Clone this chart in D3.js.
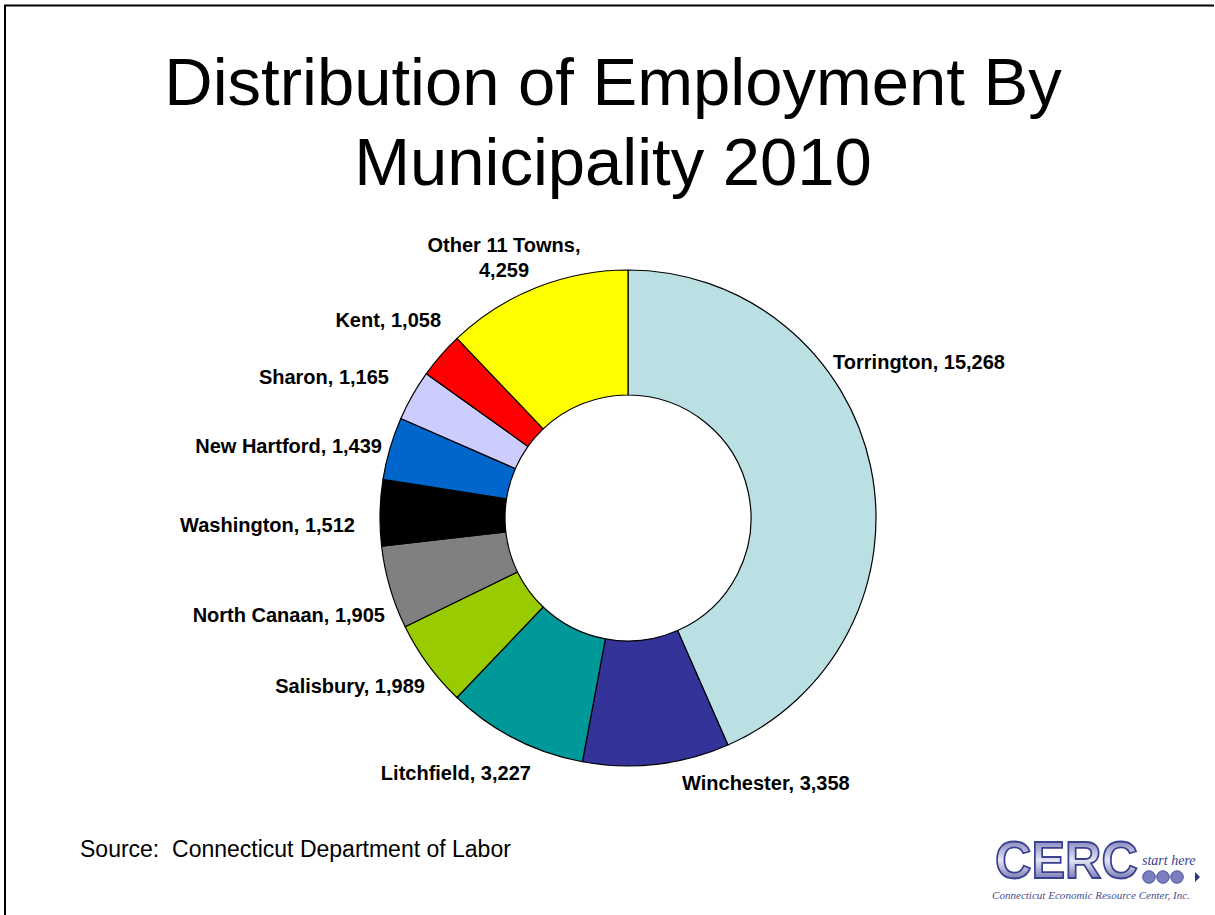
<!DOCTYPE html>
<html>
<head>
<meta charset="utf-8">
<script src="https://cdn.jsdelivr.net/npm/d3@7"></script>
<style>
  html, body { margin: 0; padding: 0; background: #fff; }
  svg { display: block; }
</style>
</head>
<body>
<svg id="chart" width="1215" height="915"></svg>
<script>
// ---- Data ----
const categories = ["Torrington", "Winchester", "Litchfield", "Salisbury", "North Canaan",
                    "Washington", "New Hartford", "Sharon", "Kent", "Other 11 Towns"];
const values = [15268, 3358, 3227, 1989, 1905, 1512, 1439, 1165, 1058, 4259];
const colors = ["#BBE0E3", "#333399", "#009999", "#99CC00", "#808080",
                "#000000", "#0066CC", "#CCCCFF", "#FF0000", "#FFFF00"];
const titleLines = ["Distribution of Employment By", "Municipality 2010"];
const sourceText = "Source:  Connecticut Department of Labor";

// ---- Layout ----
const W = 1215, H = 915;
const SANS = "Arial, 'Liberation Sans', sans-serif";
const SERIF = "'Liberation Serif', 'Times New Roman', serif";
const cx = 628, cy = 518, outerR = 248, innerR = 123;
// label placement relative to the pie (in units of outer radius) and text anchor
const labelLayout = [
  { dx: 0.827, dy: -0.629, anchor: "start" },
  { dx: 0.556, dy: 1.069, anchor: "middle" },
  { dx: -0.694, dy: 1.028, anchor: "middle" },
  { dx: -0.819, dy: 0.677, anchor: "end" },
  { dx: -0.980, dy: 0.391, anchor: "end" },
  { dx: -1.101, dy: 0.028, anchor: "end" },
  { dx: -0.992, dy: -0.290, anchor: "end" },
  { dx: -0.964, dy: -0.569, anchor: "end" },
  { dx: -0.754, dy: -0.798, anchor: "end" },
  { dx: -0.500, dy: -1.050, anchor: "middle", twoLine: true }
];

const svg = d3.select("#chart");

// border (top and left edges)
svg.append("path")
  .attr("d", `M5,915 L5,5.5 L1214,5.5`)
  .attr("fill", "none").attr("stroke", "#000").attr("stroke-width", 2);

// title
svg.append("g").selectAll("text").data(titleLines).join("text")
  .attr("x", 613).attr("y", (d, i) => 105 + i * 80)
  .attr("text-anchor", "middle")
  .style("font-family", SANS)
  .style("font-size", "67px")
  .attr("fill", "#000")
  .text(d => d);

// pie
const data = categories.map((c, i) => ({ name: c, value: values[i], color: colors[i] }));
const pie = d3.pie().value(d => d.value).sort(null);
const arc = d3.arc().innerRadius(innerR).outerRadius(outerR);
const arcs = pie(data);

const g = svg.append("g").attr("transform", `translate(${cx},${cy})`);
g.selectAll("path").data(arcs).join("path")
  .attr("d", arc)
  .attr("fill", d => d.data.color)
  .attr("stroke", "#000")
  .attr("stroke-width", 1.2)
  .attr("stroke-linejoin", "round");

// labels
const fmt = d3.format(",");
const lab = g.selectAll("text.lbl").data(arcs).join("text")
  .attr("class", "lbl")
  .style("font-family", SANS)
  .style("font-size", "20px")
  .style("font-weight", "bold")
  .attr("fill", "#000")
  .attr("text-anchor", (d, i) => labelLayout[i].anchor)
  .attr("dominant-baseline", "central")
  .attr("x", (d, i) => labelLayout[i].dx * outerR)
  .attr("y", (d, i) => labelLayout[i].dy * outerR);
lab.each(function(d, i) {
  const t = d3.select(this);
  if (labelLayout[i].twoLine) {
    t.append("tspan").attr("x", labelLayout[i].dx * outerR).attr("dy", "-0.62em").text(d.data.name + ",");
    t.append("tspan").attr("x", labelLayout[i].dx * outerR).attr("dy", "1.25em").text(fmt(d.data.value));
  } else {
    t.text(d.data.name + ", " + fmt(d.data.value));
  }
});

// source
svg.append("text")
  .attr("x", 80).attr("y", 857)
  .style("font-family", SANS)
  .style("font-size", "23px")
  .style("white-space", "pre")
  .attr("fill", "#000")
  .text(sourceText);

// logo approximation
const logo = svg.append("g").attr("transform", "translate(985,835)");
const grad = svg.append("defs").append("linearGradient")
  .attr("id", "lg").attr("x1", 0).attr("y1", 0).attr("x2", 0).attr("y2", 1);
grad.append("stop").attr("offset", "0%").attr("stop-color", "#5a5fa8");
grad.append("stop").attr("offset", "50%").attr("stop-color", "#e4e5f3");
grad.append("stop").attr("offset", "100%").attr("stop-color", "#3a3f8f");
logo.append("text")
  .attr("transform", "translate(10,43) scale(1,1.35)")
  .style("font-family", SANS)
  .style("font-size", "38px")
  .style("font-weight", "bold")
  .attr("textLength", 143)
  .attr("lengthAdjust", "spacingAndGlyphs")
  .attr("fill", "url(#lg)")
  .attr("stroke", "#3a3f8f").attr("stroke-width", 1.3)
  .text("CERC");
logo.append("text")
  .attr("x", 157).attr("y", 30)
  .style("font-family", SERIF)
  .style("font-style", "italic")
  .style("font-size", "14px")
  .attr("fill", "#3a3f8f")
  .text("start here");
[0, 1, 2].forEach(k => {
  logo.append("circle").attr("cx", 164 + k * 14).attr("cy", 42).attr("r", 6.3)
    .attr("fill", "#7a7fbf").attr("stroke", "#3a3f8f").attr("stroke-width", 0.8);
});
logo.append("path").attr("d", "M210,37 L215,42 L210,47 Z").attr("fill", "#2d3285");
logo.append("text")
  .attr("x", 7).attr("y", 64)
  .style("font-family", SERIF)
  .style("font-style", "italic")
  .style("font-size", "11px")
  .attr("textLength", 198)
  .attr("lengthAdjust", "spacingAndGlyphs")
  .attr("fill", "#4a4f90")
  .text("Connecticut Economic Resource Center, Inc.");
</script>
</body>
</html>
